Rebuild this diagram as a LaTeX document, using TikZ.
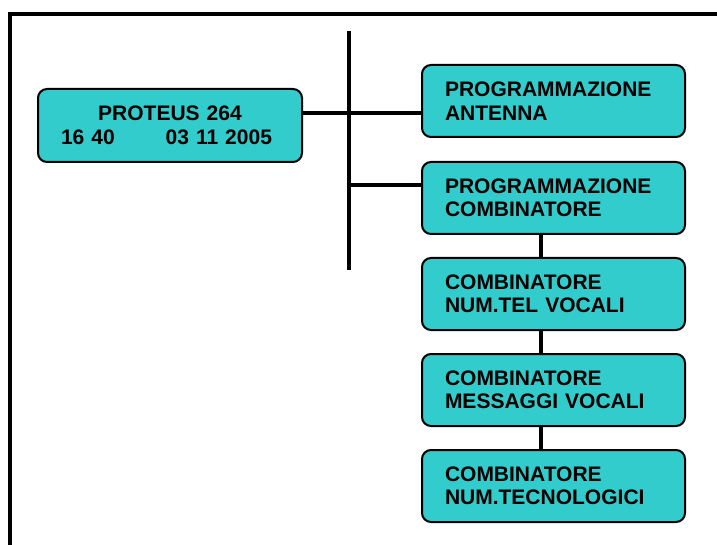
\documentclass[tikz,border=0pt]{standalone}
\usepackage{fontspec}
\setmainfont{Liberation Sans}
\definecolor{boxcyan}{RGB}{51,204,204}
\tikzset{
  rbox/.style={draw=black, line width=2pt, fill=boxcyan, rounded corners=9pt,
    minimum width=263pt, minimum height=72pt, inner xsep=23pt, inner ysep=0pt,
    text width=217pt, align=left, font=\fontsize{21}{23.5}\selectfont\bfseries, anchor=north west},
  mainbox/.style={rbox, minimum width=264pt, minimum height=73pt, inner xsep=10pt, text width=244pt, align=center},
  wire/.style={line width=4pt, draw=black},
  frameline/.style={line width=4.5pt, draw=black}
}
\begin{document}
\begin{tikzpicture}[x=1pt,y=-1pt]
\useasboundingbox (0,0) rectangle (717,545);
\clip (0,0) rectangle (717,545);
\fill[white] (0,0) rectangle (717,545);
% frame
\draw[frameline] (10,560) -- (10,14) -- (730,14);
% nodes
\node[mainbox] (prot) at (37,88) {PROTEUS 264\\\hspace*{-7pt}16 40\hspace{51pt}03 11 2005};
\node[rbox] (pa) at (421,64) {PROGRAMMAZIONE\\ANTENNA};
\node[rbox] (pc) at (421,161) {PROGRAMMAZIONE\\COMBINATORE};
\node[rbox] (ct) at (421,257) {COMBINATORE\\NUM.TEL VOCALI};
\node[rbox] (cm) at (421,353) {COMBINATORE\\MESSAGGI VOCALI};
\node[rbox] (cn) at (421,449) {COMBINATORE\\NUM.TECNOLOGICI};
% connectors
\coordinate (ttop) at (349,31);
\coordinate (tbot) at (349,270);
\coordinate (j1) at (349,113);
\coordinate (j2) at (349,185);
\draw[wire] (ttop) -- (tbot);
\draw[wire] (j1 -| prot.east) -- (j1 -| pa.west);
\draw[wire] (j2) -- (j2 -| pc.west);
\coordinate (vx) at (541,0);
\draw[wire] (vx |- pc.south) -- (vx |- ct.north);
\draw[wire] (vx |- ct.south) -- (vx |- cm.north);
\draw[wire] (vx |- cm.south) -- (vx |- cn.north);
\end{tikzpicture}
\end{document}
